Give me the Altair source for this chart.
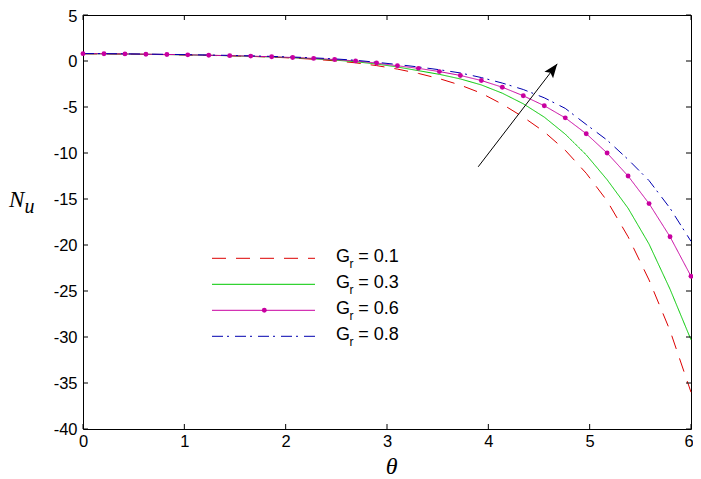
import altair as alt
import pandas as pd

# sample points along theta
theta = [0.0, 0.207, 0.414, 0.621, 0.828, 1.034, 1.241, 1.448, 1.655, 1.862,
         2.069, 2.276, 2.483, 2.690, 2.897, 3.103, 3.310, 3.517, 3.724, 3.931,
         4.138, 4.345, 4.552, 4.759, 4.966, 5.172, 5.379, 5.586, 5.793, 6.0]

nu_gr01 = [0.78, 0.77, 0.75, 0.72, 0.69, 0.65, 0.61, 0.56, 0.50, 0.42,
           0.32, 0.19, 0.02, -0.20, -0.50, -0.88, -1.35, -1.92, -2.62, -3.50,
           -4.70, -6.10, -7.70, -9.70, -12.20, -15.20, -19.10, -23.80, -29.30, -36.00]
nu_gr03 = [0.79, 0.78, 0.76, 0.73, 0.70, 0.66, 0.62, 0.57, 0.51, 0.44,
           0.35, 0.24, 0.10, -0.08, -0.33, -0.65, -1.05, -1.45, -1.95, -2.60,
           -3.50, -4.65, -6.10, -7.95, -10.20, -12.90, -16.00, -19.90, -24.80, -30.30]
nu_gr06 = [0.80, 0.79, 0.77, 0.74, 0.71, 0.67, 0.63, 0.58, 0.53, 0.46,
           0.38, 0.28, 0.16, 0.01, -0.22, -0.52, -0.80, -1.15, -1.57, -2.12,
           -2.85, -3.78, -4.86, -6.18, -7.90, -10.00, -12.50, -15.50, -19.10, -23.40]
nu_gr08 = [0.81, 0.80, 0.78, 0.75, 0.72, 0.69, 0.65, 0.61, 0.56, 0.50,
           0.43, 0.34, 0.23, 0.08, -0.14, -0.38, -0.65, -0.95, -1.30, -1.80,
           -2.40, -3.10, -4.00, -5.15, -6.90, -8.60, -10.70, -13.00, -16.00, -19.60]

series_labels = ["0.1", "0.3", "0.6", "0.8"]
series_colors = ["#dd0000", "#00c800", "#c800a0", "#0000b0"]
series_dashes = [[14, 10], [1, 0], [1, 0], [11, 4, 2, 6]]

x_ticks = [0, 1, 2, 3, 4, 5, 6]
y_ticks = [5, 0, -5, -10, -15, -20, -25, -30, -35, -40]

# arrow annotation (data coordinates): tail -> head
arrow_theta = [3.90, 4.68]
arrow_nu = [-11.5, -0.31]

rows = []
for lab, vals in zip(series_labels, [nu_gr01, nu_gr03, nu_gr06, nu_gr08]):
    for t, v in zip(theta, vals):
        rows.append({"theta": t, "Nu": v, "series": lab})
df = pd.DataFrame(rows)

PAD_L, PAD_T, PAD_R = 75, 7, 2
W, H = 608, 414
PAD_B = 471 - PAD_T - H
OX, OY = 8 + PAD_L, 8 + PAD_T  # page position of plot origin


def px(ax):
    return ax - OX


def py(ay):
    return ay - OY


SANS = "Liberation Sans, Arial, Helvetica, sans-serif"
SERIF = "Liberation Serif, Times New Roman, serif"

xs = alt.Scale(domain=[0, 6], nice=False, zero=False)
ys = alt.Scale(domain=[-40, 5], nice=False, zero=False)
xaxis = alt.Axis(values=x_ticks, ticks=False, tickSize=0, domain=False, grid=False,
                 labelFont=SANS, labelFontSize=16.5, labelColor="black", labelFlush=False,
                 labelOffset={"condition": {"test": "datum.value === 6", "value": -2.5}, "value": 0},
                 labelPadding=4, title=None, labelExpr="datum.value + ''")
yaxis = alt.Axis(values=y_ticks, ticks=False, tickSize=0, domain=False, grid=False,
                 labelFont=SANS, labelFontSize=16.5, labelColor="black", labelFlush=False,
                 labelOffset={"condition": {"test": "datum.value === 5", "value": 1.5}, "value": 0},
                 labelPadding=6, title=None, labelExpr="datum.value + ''")


def X(f):
    return alt.X(f, scale=xs, axis=xaxis)


def Y(f):
    return alt.Y(f, scale=ys, axis=yaxis)


color = alt.Color("series:N", scale=alt.Scale(domain=series_labels, range=series_colors), legend=None)
dash = alt.StrokeDash("series:N", scale=alt.Scale(domain=series_labels, range=series_dashes), legend=None)

lines = alt.Chart(df).mark_line(strokeWidth=1).encode(
    x=X("theta:Q"), y=Y("Nu:Q"), color=color, strokeDash=dash, order="theta:Q")

markers = alt.Chart(df).transform_filter("datum.series == '0.6'").mark_point(
    filled=True, shape="circle", size=24, opacity=1).encode(
    x=X("theta:Q"), y=Y("Nu:Q"), color=color)

# inward ticks on all four sides
ydf = pd.DataFrame({"v": y_ticks})
xdf = pd.DataFrame({"v": x_ticks})
tl = 5
left_ticks = alt.Chart(ydf).mark_rule(color="black", strokeWidth=1).encode(
    y=Y("v:Q"), x=alt.value(0), x2=alt.value(tl))
right_ticks = alt.Chart(ydf).mark_rule(color="black", strokeWidth=1).encode(
    y=Y("v:Q"), x=alt.value(W - tl), x2=alt.value(W))
bottom_ticks = alt.Chart(xdf).mark_rule(color="black", strokeWidth=1).encode(
    x=X("v:Q"), y=alt.value(H), y2=alt.value(H - tl))
top_ticks = alt.Chart(xdf).mark_rule(color="black", strokeWidth=1).encode(
    x=X("v:Q"), y=alt.value(0), y2=alt.value(tl))

# arrow
adf = pd.DataFrame({"x": [arrow_theta[0]], "y": [arrow_nu[0]],
                    "x2": [arrow_theta[1]], "y2": [arrow_nu[1]]})
arrow_shaft = alt.Chart(adf).mark_rule(color="black", strokeWidth=1).encode(
    x=X("x:Q"), y=Y("y:Q"), x2="x2:Q", y2="y2:Q")
arrow_head = alt.Chart(adf).mark_point(
    shape="M0,0L-0.78,2L0,1.6L0.78,2Z", filled=True, size=196, opacity=1,
    color="black", angle=37.4).encode(x=X("x2:Q"), y=Y("y2:Q"))

# legend (drawn inside plot)
row0 = py(258.3)
legdf = pd.DataFrame({"series": series_labels, "row": [0, 1, 2, 3]})
leg_base = alt.Chart(legdf).transform_calculate(
    ly=f"{row0} + 26*datum.row",
    gy=f"{row0 + 3.8} + 26*datum.row",
    ry=f"{row0 + 9.5} + 26*datum.row",
    txt="'= ' + datum.series")
leg_lines = leg_base.mark_rule(strokeWidth=1).encode(
    x=alt.value(px(212)), x2=alt.value(px(315)), y=alt.Y("ly:Q", scale=None),
    color=color, strokeDash=dash)
leg_marker = leg_base.transform_filter("datum.series == '0.6'").mark_point(
    filled=True, shape="circle", size=24, opacity=1).encode(
    x=alt.value(px(264.3)), y=alt.Y("ly:Q", scale=None), color=color)
leg_G = leg_base.mark_text(align="left", baseline="alphabetic", font=SANS, fontSize=18,
                           color="black").encode(
    x=alt.value(px(336)), y=alt.Y("gy:Q", scale=None), text=alt.value("G"))
leg_r = leg_base.mark_text(align="left", baseline="alphabetic", font=SANS, fontSize=12,
                           color="black").encode(
    x=alt.value(px(349.5)), y=alt.Y("ry:Q", scale=None), text=alt.value("r"))
leg_txt = leg_base.mark_text(align="left", baseline="alphabetic", font=SANS, fontSize=18,
                             color="black").encode(
    x=alt.value(px(358.2)), y=alt.Y("gy:Q", scale=None), text="txt:N")

# axis titles
one = pd.DataFrame({"k": [0]})
title_N = alt.Chart(one).mark_text(align="left", baseline="alphabetic", font=SERIF,
                                   fontStyle="italic", fontSize=23, color="black").encode(
    x=alt.value(px(9)), y=alt.value(py(206.7)), text=alt.value("N"))
title_u = alt.Chart(one).mark_text(align="left", baseline="alphabetic", font=SERIF,
                                   fontStyle="italic", fontSize=20, color="black").encode(
    x=alt.value(px(24.5)), y=alt.value(py(212.5)), text=alt.value("u"))
title_theta = alt.Chart(one).mark_text(align="center", baseline="alphabetic", font=SERIF,
                                       fontStyle="italic", fontSize=24, color="black").encode(
    x=alt.value(px(391.7)), y=alt.value(py(474)), text=alt.value("θ"))

chart = alt.layer(
    lines, markers, left_ticks, right_ticks, bottom_ticks, top_ticks,
    arrow_shaft, arrow_head,
    leg_lines, leg_marker, leg_G, leg_r, leg_txt,
    title_N, title_u, title_theta,
).properties(
    width=W, height=H,
    autosize=alt.AutoSizeParams(type="none"),
    padding={"left": PAD_L, "top": PAD_T, "right": PAD_R, "bottom": PAD_B},
    background="white",
).configure_view(stroke="black", strokeWidth=1)

chart.save("out.html", embed_options={"renderer": "svg", "actions": False})
